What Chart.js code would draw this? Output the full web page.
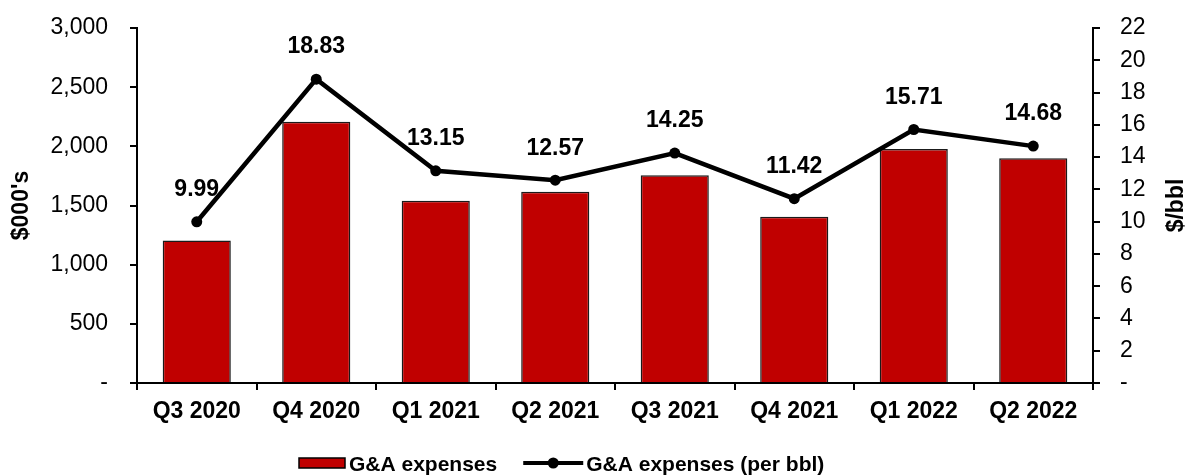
<!DOCTYPE html>
<html>
<head>
<meta charset="utf-8">
<script src="https://cdn.jsdelivr.net/npm/chart.js@4.4.1/dist/chart.umd.min.js"></script>
<style>
  html, body { margin: 0; padding: 0; background: #fff; }
</style>
</head>
<body>
<canvas id="ga-chart" width="1188" height="475"></canvas>
<script>
const FONT = "'Liberation Sans', Arial, sans-serif"

// ---------------------------------------- | Data

const quarters = ["Q3 2020", "Q4 2020", "Q1 2021", "Q2 2021", "Q3 2021", "Q4 2021", "Q1 2022", "Q2 2022"]
const gaExpenses = [1205, 2208, 1540, 1617, 1755, 1405, 1977, 1900]
const gaPerBbl = [9.99, 18.83, 13.15, 12.57, 14.25, 11.42, 15.71, 14.68]

const barColor = "#C00000"
const lineColor = "#000000"

// ---------------------------------------- | Plugins

// value labels above the line points
const pointLabels = {
  id: "pointLabels",
  afterDatasetsDraw(chart) {
    const ctx = chart.ctx
    const meta = chart.getDatasetMeta(1)
    ctx.save()
    ctx.font = "bold 23px " + FONT
    ctx.fillStyle = "#000"
    ctx.textAlign = "center"
    ctx.textBaseline = "middle"
    meta.data.forEach((pt, i) => {
      ctx.fillText(gaPerBbl[i].toFixed(2), pt.x, pt.y - 32)
    })
    ctx.restore()
  }
}

// right axis title reads bottom-to-top, and the legend sits low under the labels
const extras = {
  id: "extras",
  afterDraw(chart) {
    const ctx = chart.ctx
    const area = chart.chartArea
    ctx.save()
    ctx.font = "bold 23px " + FONT
    ctx.fillStyle = "#000"
    ctx.textAlign = "center"
    ctx.textBaseline = "middle"
    ctx.translate(1177, (area.top + area.bottom) / 2)
    ctx.rotate(-Math.PI / 2)
    ctx.fillText("$/bbl", 0, 0)
    ctx.restore()

    const ds = chart.data.datasets
    const y = 464
    ctx.save()
    ctx.font = "bold 21px " + FONT
    ctx.textBaseline = "middle"
    ctx.fillStyle = "#000"

    let x = 299
    ctx.fillStyle = ds[0].backgroundColor
    ctx.fillRect(x, y - 6, 46, 10)
    ctx.strokeStyle = "#000"
    ctx.lineWidth = 1.5
    ctx.strokeRect(x, y - 6, 46, 10)
    ctx.fillStyle = "#000"
    ctx.textAlign = "left"
    ctx.fillText(ds[0].label, x + 50, y + 1)
    x += 50 + ctx.measureText(ds[0].label).width + 26

    ctx.strokeStyle = ds[1].borderColor
    ctx.lineWidth = 4
    ctx.beginPath()
    ctx.moveTo(x, y - 1)
    ctx.lineTo(x + 60, y - 1)
    ctx.stroke()
    ctx.beginPath()
    ctx.arc(x + 30, y - 1, 5.5, 0, Math.PI * 2)
    ctx.fillStyle = ds[1].borderColor
    ctx.fill()
    ctx.fillStyle = "#000"
    ctx.fillText(ds[1].label, x + 63, y + 1)
    ctx.restore()
  }
}

// ---------------------------------------- | Chart

const axisBase = {
  border: { display: true, color: "#000", width: 2 },
  grid: { display: true, drawOnChartArea: false, drawTicks: true, tickLength: 7, color: "#000", lineWidth: 2 }
}

// fixed widths so the plot lines up, and no extra room for tick label overflow
const fitY = width => scale => {
  scale.width = width
  scale.paddingTop = 0
  scale.paddingBottom = 0
}

const ctx = document.getElementById("ga-chart").getContext("2d")

const gaChart = new Chart(ctx, {
  type: "bar",
  data: {
    labels: quarters,
    datasets: [
      {
        type: "bar",
        label: "G&A expenses",
        data: gaExpenses,
        backgroundColor: barColor,
        borderColor: "#1a1a1a",
        borderWidth: 1.5,
        categoryPercentage: 1,
        barPercentage: 0.57,
        yAxisID: "y",
        order: 1
      },
      {
        type: "line",
        label: "G&A expenses (per bbl)",
        data: gaPerBbl,
        borderColor: lineColor,
        backgroundColor: lineColor,
        borderWidth: 4.5,
        pointRadius: 5.5,
        pointHoverRadius: 5.5,
        pointBackgroundColor: lineColor,
        pointBorderWidth: 0,
        tension: 0,
        yAxisID: "y1",
        order: 0
      }
    ]
  },
  options: {
    responsive: false,
    animation: false,
    devicePixelRatio: 1,
    layout: { padding: { top: 28, left: 0, right: 0, bottom: 0 } },
    plugins: {
      legend: { display: false },
      tooltip: { enabled: false }
    },
    scales: {
      x: {
        ...axisBase,
        grid: { ...axisBase.grid, offset: true },
        ticks: { color: "#000", padding: 8, font: { family: FONT, size: 23, weight: "bold" }, maxRotation: 0 },
        afterFit: scale => { scale.height = 92 }
      },
      y: {
        ...axisBase,
        position: "left",
        min: 0,
        max: 3000,
        ticks: {
          stepSize: 500,
          color: "#000",
          padding: 22,
          font: { family: FONT, size: 23 },
          callback: v => (v === 0 ? "-" : v.toLocaleString("en-US"))
        },
        title: { display: true, text: "$000's", color: "#000", padding: { top: 8, bottom: 0 }, font: { family: FONT, size: 23, weight: "bold" } },
        afterFit: fitY(137)
      },
      y1: {
        ...axisBase,
        position: "right",
        min: 0,
        max: 22,
        ticks: {
          stepSize: 2,
          color: "#000",
          padding: 20,
          font: { family: FONT, size: 23 },
          callback: v => (v === 0 ? "-" : v)
        },
        afterFit: fitY(95)
      }
    }
  },
  plugins: [pointLabels, extras]
})
</script>
</body>
</html>
